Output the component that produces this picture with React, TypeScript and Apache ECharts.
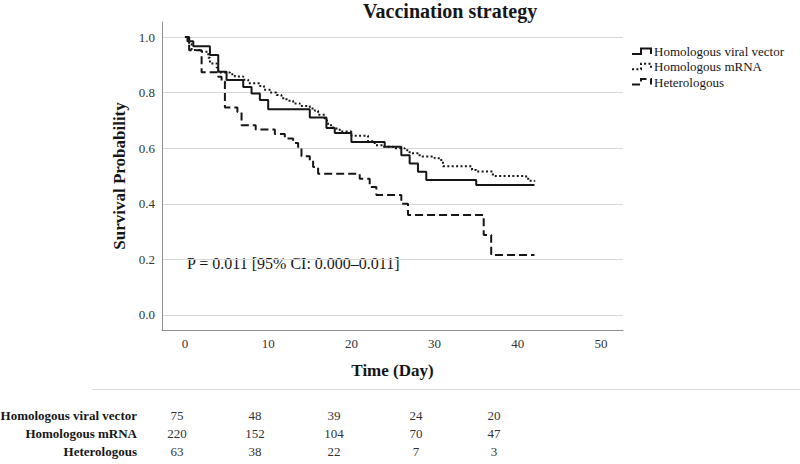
import React, { useEffect, useRef } from "react";
import * as echarts from "echarts";

// Kaplan–Meier estimates by vaccination strategy: [day, survival probability]
const chartTitle = "Vaccination strategy";
const groupNames = ["Homologous viral vector", "Homologous mRNA", "Heterologous"];

const viralDays = [0, 0.3, 1, 3, 4, 5, 7, 8, 9, 10, 15, 17, 18, 20, 24, 26, 27, 28, 29, 35, 42];
const viralSurv = [1.0, 0.985, 0.967, 0.935, 0.875, 0.845, 0.82, 0.797, 0.773, 0.74, 0.71, 0.673, 0.655, 0.622, 0.605, 0.575, 0.545, 0.515, 0.486, 0.468, 0.468];

const mrnaDays = [0, 0.5, 0.8, 2, 2.8, 3, 3.8, 4, 5.4, 6, 7, 7.6, 9, 9.5, 10.2, 11, 11.6, 12.2, 13, 13.8, 15, 15.6, 16, 16.8, 17.2, 17.8, 18.6, 20, 22, 22.8, 23.8, 25, 26.4, 27, 28.2, 30, 30.8, 31, 34.5, 35, 37, 41, 41.4, 42];
const mrnaSurv = [1.0, 0.975, 0.953, 0.947, 0.925, 0.905, 0.89, 0.872, 0.866, 0.858, 0.846, 0.834, 0.824, 0.81, 0.8, 0.791, 0.78, 0.771, 0.761, 0.752, 0.743, 0.735, 0.72, 0.7, 0.683, 0.671, 0.66, 0.645, 0.625, 0.611, 0.605, 0.6, 0.593, 0.582, 0.57, 0.564, 0.552, 0.535, 0.522, 0.516, 0.5, 0.49, 0.483, 0.48];

const hetDays = [0, 0.5, 2, 4, 4.4, 4.8, 6.3, 6.8, 8.5, 10.8, 12, 13, 13.6, 14, 15, 15.4, 16, 21, 22.2, 23, 26, 26.8, 35.9, 36.8, 42];
const hetSurv = [1.0, 0.952, 0.873, 0.857, 0.841, 0.746, 0.73, 0.683, 0.667, 0.651, 0.635, 0.619, 0.603, 0.571, 0.556, 0.532, 0.508, 0.49, 0.46, 0.432, 0.4, 0.36, 0.288, 0.216, 0.216];

const xTicks = [0, 10, 20, 30, 40, 50];
const yTicks = [0, 0.2, 0.4, 0.6, 0.8, 1.0];

// Number at risk
const atRiskViral = [75, 48, 39, 24, 20];
const atRiskMrna = [220, 152, 104, 70, 47];
const atRiskHet = [63, 38, 22, 7, 3];

const pValueText = "P = 0.011 [95% CI: 0.000\u20130.011]";

const SERIF = "'Liberation Serif', 'Times New Roman', serif";
const INK = "#161616";

const zip = (xs: number[], ys: number[]) => xs.map((x, i) => [x, ys[i]]);

const lineDashes: (string | number[])[] = ["solid", [2, 2.4], [8, 4]];

export default function App() {
  const ref = useRef<HTMLDivElement>(null);

  useEffect(() => {
    if (!ref.current) return;
    const chart = echarts.init(ref.current, undefined, { renderer: "svg" });

    const curves = [zip(viralDays, viralSurv), zip(mrnaDays, mrnaSurv), zip(hetDays, hetSurv)];
    const atRisk = [atRiskViral, atRiskMrna, atRiskHet];
    const tableCols = [177, 255, 334, 416, 494];
    const tableRows = [415, 433, 451];

    const graphics: any[] = [];

    // legend
    groupNames.forEach((name, i) => {
      const cy = 51.5 + i * 15.3;
      graphics.push({
        type: "polyline",
        shape: {
          points: [
            [632, cy + 2.5],
            [641, cy + 2.5],
            [641, cy - 3],
            [651, cy - 3],
            [651, cy + 2.5],
          ],
        },
        style: {
          stroke: INK,
          lineWidth: 2,
          fill: null,
          lineDash: lineDashes[i] === "solid" ? null : lineDashes[i],
        },
      });
      graphics.push({
        type: "text",
        x: 654,
        y: cy,
        style: {
          text: name,
          fill: INK,
          font: `13px ${SERIF}`,
          textAlign: "left",
          textVerticalAlign: "middle",
          align: "left",
          verticalAlign: "middle",
        },
      });
    });

    // p-value annotation
    graphics.push({
      type: "text",
      x: 187,
      y: 263,
      style: {
        text: pValueText,
        fill: INK,
        font: `16px ${SERIF}`,
        textAlign: "left",
        textVerticalAlign: "middle",
        align: "left",
        verticalAlign: "middle",
      },
    });

    // separator above the risk table
    graphics.push({
      type: "line",
      shape: { x1: 92, y1: 389.5, x2: 800, y2: 389.5 },
      style: { stroke: "#dcdcdc", lineWidth: 1 },
    });

    // number-at-risk table
    groupNames.forEach((name, r) => {
      graphics.push({
        type: "text",
        x: 137,
        y: tableRows[r],
        style: {
          text: name,
          fill: INK,
          font: `bold 13px ${SERIF}`,
          textAlign: "right",
          textVerticalAlign: "middle",
          align: "right",
          verticalAlign: "middle",
        },
      });
      atRisk[r].forEach((n, c) => {
        graphics.push({
          type: "text",
          x: tableCols[c],
          y: tableRows[r],
          style: {
            text: String(n),
            fill: "#333",
            font: `13px ${SERIF}`,
            textAlign: "center",
            textVerticalAlign: "middle",
            align: "center",
            verticalAlign: "middle",
          },
        });
      });
    });

    chart.setOption({
      animation: false,
      backgroundColor: "#ffffff",
      title: {
        text: chartTitle,
        left: 363,
        top: 1,
        padding: 0,
        textStyle: { fontFamily: SERIF, fontWeight: "bold", fontSize: 20, color: INK },
      },
      grid: {
        left: 162,
        right: 177,
        top: 22,
        bottom: 134,
        containLabel: false,
        outerBoundsMode: "none",
      },
      xAxis: {
        type: "value",
        min: -2.76,
        max: 52.64,
        name: "Time (Day)",
        nameLocation: "middle",
        nameGap: 32,
        nameTextStyle: { fontFamily: SERIF, fontWeight: "bold", fontSize: 17, color: INK },
        axisLine: { show: true, onZero: false, lineStyle: { color: "#8f8f8f", width: 1 } },
        axisTick: { show: false, customValues: xTicks },
        axisLabel: { customValues: xTicks, color: "#333", fontFamily: SERIF, fontSize: 13, margin: 7 },
        splitLine: { show: false },
      },
      yAxis: {
        type: "value",
        min: -0.054,
        max: 1.054,
        name: "Survival Probability",
        nameLocation: "middle",
        nameGap: 29,
        nameTextStyle: { fontFamily: SERIF, fontWeight: "bold", fontSize: 17, color: INK },
        axisLine: { show: true, onZero: false, lineStyle: { color: "#8f8f8f", width: 1 } },
        axisTick: { show: false, customValues: yTicks },
        axisLabel: {
          customValues: yTicks,
          color: "#333",
          fontFamily: SERIF,
          fontSize: 13,
          margin: 7,
          formatter: (v: number) => v.toFixed(1),
        },
        splitLine: { show: true, lineStyle: { color: "#d8d8d8", width: 1 } },
      },
      series: curves.map((data, i) => ({
        name: groupNames[i],
        type: "line",
        step: "end",
        data,
        showSymbol: false,
        symbol: "none",
        lineStyle: { color: INK, width: 2, type: lineDashes[i] },
        z: 3 - i,
      })),
      graphic: graphics,
    });

    return () => chart.dispose();
  }, []);

  return (
    <div
      ref={ref}
      style={{ position: "fixed", left: 0, top: 0, width: 800, height: 464, background: "#fff" }}
    />
  );
}
